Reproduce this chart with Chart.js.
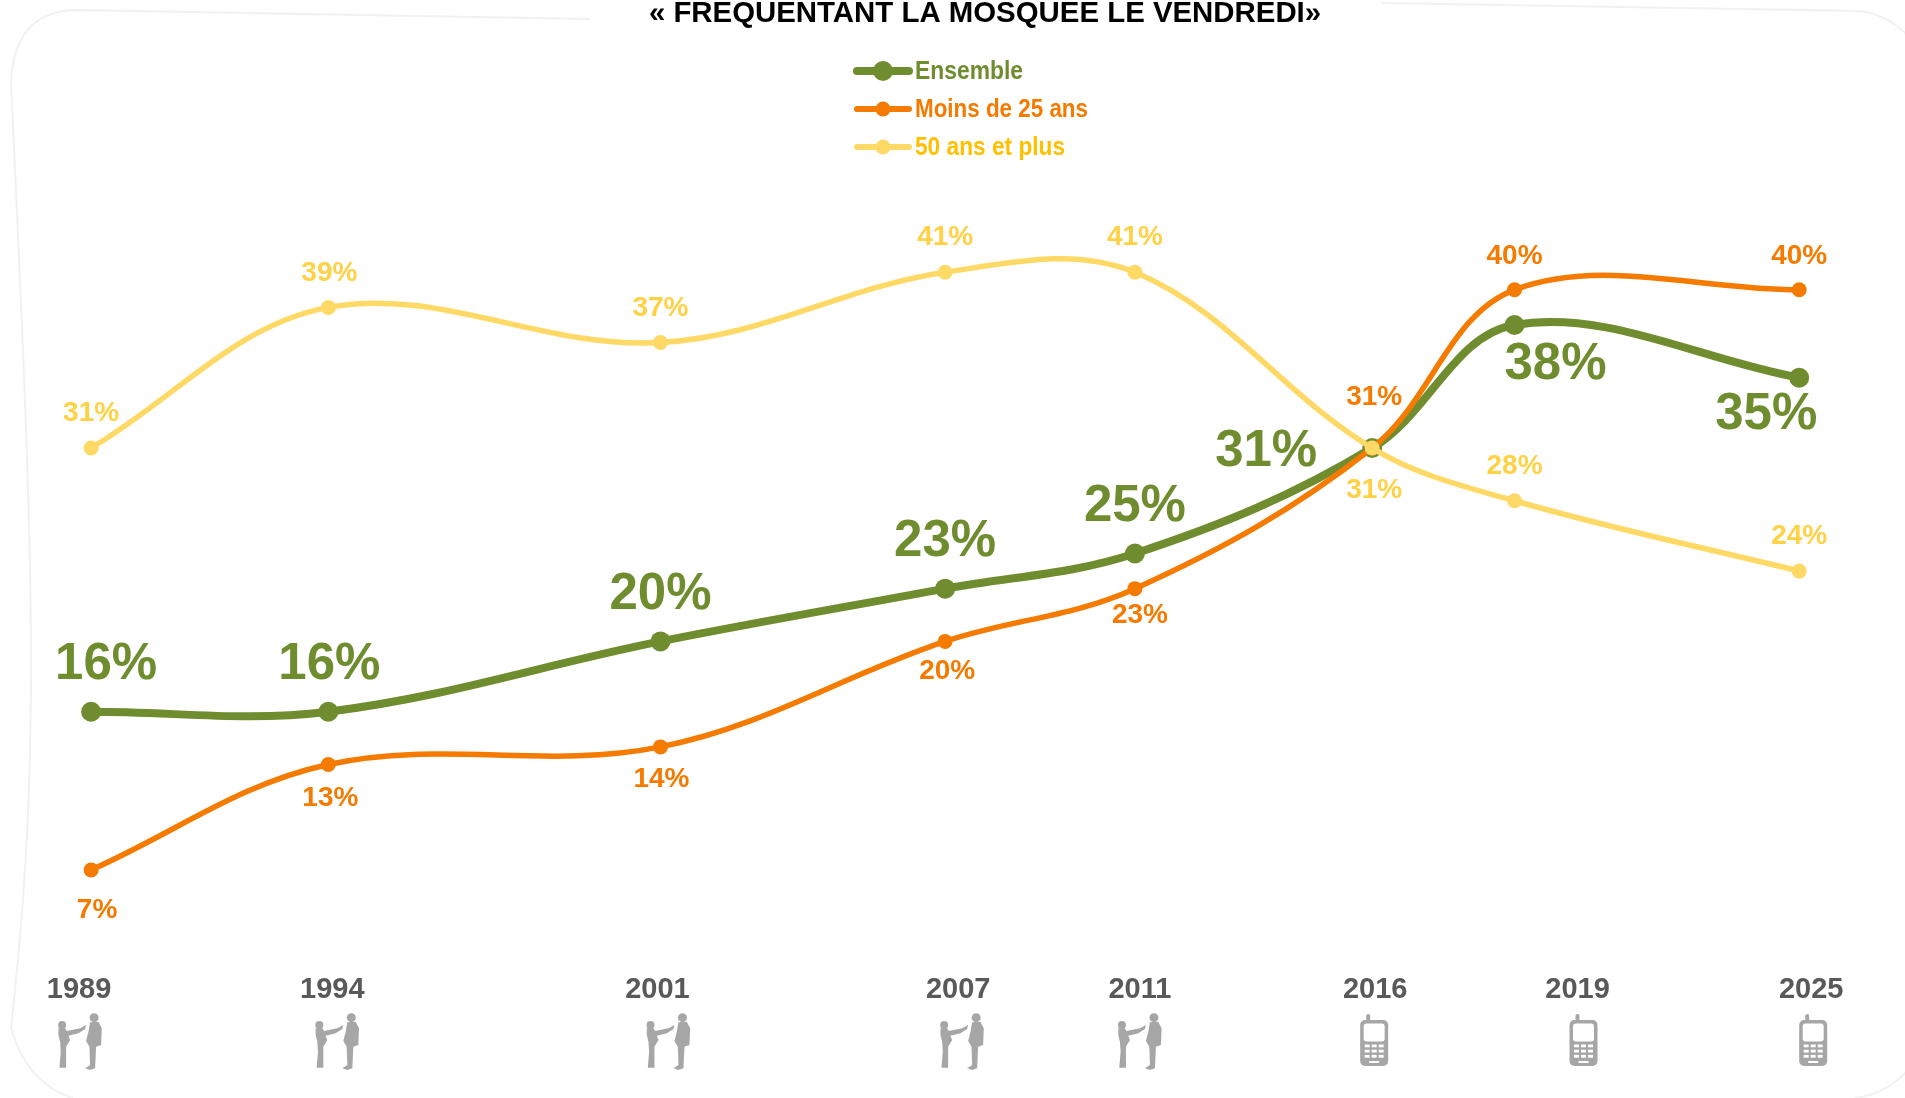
<!DOCTYPE html>
<html lang="fr">
<head>
<meta charset="utf-8">
<title>Fréquentant la mosquée le vendredi</title>
<script src="https://cdn.jsdelivr.net/npm/chart.js@4/dist/chart.umd.min.js"></script>
<style>html,body{margin:0;padding:0;background:#fff;overflow:hidden}canvas{display:block}</style>
</head>
<body>
<canvas id="c" width="1905" height="1098"></canvas>
<script>
const titleText = "« FREQUENTANT LA MOSQUEE LE VENDREDI»";
const years = [1989, 1994, 2001, 2007, 2011, 2016, 2019, 2025];
const ensemble = [16, 16, 20, 23, 25, 31, 38, 35];
const moins25 = [7, 13, 14, 20, 23, 31, 40, 40];
const plus50 = [31, 39, 37, 41, 41, 31, 28, 24];
const tickLabels = ["1989", "1994", "2001", "2007", "2011", "2016", "2019", "2025"];
const tickIcons = ["people", "people", "people", "people", "people", "phone", "phone", "phone"];

/* layout (pixels) */
const tickShift = [-12, 4, -3, 13, 5, 3, 63, 12];
const iconShift = [1, 5, 11, 4, 0, -1, 6, 2];
const offEnsemble = [[15,-46.5],[1,-46.5],[0,-46.5],[0,-46.5],[0,-47],[-106,3.5],[41,39.5],[-33,37.5]];
const offMoins = [[6,40.5],[2,33.5],[1,32.5],[2,30],[5,26.5],[2,-51],[0,-34],[0,-34]];
const offPlus = [[0,-34.5],[1,-34.5],[0,-34],[0,-34.5],[0,-34.5],[2,42],[0,-34],[0,-34.5]];

const GREEN = "#6f8d2f", ORANGE = "#f47b00", YELLOW = "#ffd966";
const X_MIN = 1987.08, X_MAX = 2027.23, PX_PER_YEAR = 1905 / (X_MAX - X_MIN);
const AXIS_H = 128, PX_PER_UNIT = 17.58;
const Y_MIN = (993 - (1098 - AXIS_H)) / PX_PER_UNIT, Y_MAX = 993 / PX_PER_UNIT;

function xy(a) { return a.map((v, i) => ({ x: years[i], y: v })); }
function ds(label, data, color, width, radius, order, labelColor, labelFont, offs) {
  return { label, data: xy(data), borderColor: color, backgroundColor: color, pointBackgroundColor: color,
    pointBorderColor: color, pointBorderWidth: 0, borderWidth: width, pointRadius: radius, pointHoverRadius: radius,
    tension: 0.36, order, labelColor, labelFont, offs, borderCapStyle: "round" };
}

function drawPeople(ctx, cx, top) {
  const P = (x, y) => [cx + x / 3 - 40, top + y / 3 - 10];
  const poly = pts => { ctx.beginPath(); pts.forEach((p, i) => { const q = P(p[0], p[1]); i ? ctx.lineTo(q[0], q[1]) : ctx.moveTo(q[0], q[1]); }); ctx.closePath(); ctx.fill(); };
  const head = (x, y, r) => { const q = P(x, y); ctx.beginPath(); ctx.arc(q[0], q[1], r, 0, 7); ctx.fill(); };
  ctx.save();
  ctx.fillStyle = "#a6a6a6";
  ctx.filter = "blur(0.7px)";
  head(66, 60, 4); head(162, 38, 4.5);
  poly([[55,70],[75,70],[80,78],[120,70],[138,60],[135,72],[115,85],[85,92],[90,105],[78,125],[78,150],[78,188],[58,188],[62,140],[60,110],[55,90]]);
  poly([[150,52],[175,50],[185,70],[183,120],[168,125],[165,190],[150,195],[135,190],[150,180],[148,125],[138,108],[145,80]]);
  ctx.restore();
}
function drawPhone(ctx, cx, top) {
  const L = cx - 14;
  ctx.save();
  ctx.fillStyle = "#a6a6a6";
  ctx.beginPath(); ctx.roundRect(L + 6, top, 4, 8, 2); ctx.fill();
  ctx.beginPath(); ctx.roundRect(L, top + 6, 28, 46, 5); ctx.fill();
  ctx.fillStyle = "#fff";
  ctx.beginPath(); ctx.roundRect(L + 3.5, top + 9.5, 21, 18, 3); ctx.fill();
  for (let r = 0; r < 3; r++) for (let c = 0; c < 3; c++) ctx.fillRect(L + 4.5 + c * 7, top + 30.5 + r * 5.2, 5, 2.8);
  ctx.fillRect(L + 9, top + 47, 10, 2);
  ctx.restore();
}

const decor = {
  id: "decor",
  beforeDraw(chart) {
    const ctx = chart.ctx;
    ctx.save();
    ctx.strokeStyle = "#f1f1f1"; ctx.lineWidth = 2; ctx.lineCap = "round";
    ctx.beginPath();
    ctx.moveTo(590, 19); ctx.lineTo(75, 10);
    ctx.quadraticCurveTo(14, 12, 11, 82);
    ctx.bezierCurveTo(20, 280, 31, 500, 31, 660);
    ctx.bezierCurveTo(31, 800, 25, 900, 11, 1028);
    ctx.quadraticCurveTo(26, 1082, 72, 1098);
    ctx.moveTo(1383, 3); ctx.lineTo(1860, 11);
    ctx.quadraticCurveTo(1885, 14, 1905, 33);
    ctx.moveTo(1905, 1073); ctx.quadraticCurveTo(1885, 1094, 1855, 1098);
    ctx.stroke();
    ctx.restore();
  },
  afterDraw(chart) {
    const ctx = chart.ctx;
    // title
    ctx.save();
    ctx.fillStyle = "#000"; ctx.font = "bold 29.4px 'Liberation Sans'"; ctx.textAlign = "center"; ctx.textBaseline = "alphabetic";
    ctx.fillText(titleText, 985, 22, 673);
    ctx.restore();
    // legend
    const ly = [71, 109, 147], lw = [108, 173, 150], lc = [GREEN, ORANGE, "#ffc000"], lr = [10, 7.5, 7.5], lt = [8, 6, 6];
    chart.data.datasets.forEach((d, i) => {
      ctx.save();
      ctx.strokeStyle = d.borderColor; ctx.fillStyle = d.borderColor; ctx.lineWidth = lt[i]; ctx.lineCap = "round";
      ctx.beginPath(); ctx.moveTo(857, ly[i]); ctx.lineTo(909, ly[i]); ctx.stroke();
      ctx.beginPath(); ctx.arc(883, ly[i], lr[i], 0, 7); ctx.fill();
      ctx.fillStyle = lc[i]; ctx.font = "bold 25px 'Liberation Sans'"; ctx.textAlign = "left"; ctx.textBaseline = "middle";
      ctx.fillText(d.label, 915, ly[i] + 1, lw[i]);
      ctx.restore();
    });
    // value labels
    chart.data.datasets.forEach((d, i) => {
      const meta = chart.getDatasetMeta(i);
      meta.data.forEach((pt, j) => {
        ctx.save();
        ctx.fillStyle = d.labelColor; ctx.font = d.labelFont; ctx.textAlign = "center"; ctx.textBaseline = "middle";
        ctx.fillText(d.data[j].y + "%", pt.x + d.offs[j][0], pt.y + d.offs[j][1]);
        ctx.restore();
      });
    });
    // icons under the ticks
    const sx = chart.scales.x;
    tickIcons.forEach((kind, i) => {
      const cx = sx.getPixelForValue(years[i] + tickShift[i] / PX_PER_YEAR) + iconShift[i];
      if (kind === "people") drawPeople(ctx, cx, 1015); else drawPhone(ctx, cx, 1014);
    });
  }
};

new Chart(document.getElementById("c"), {
  type: "line",
  data: { datasets: [
    ds("Ensemble", ensemble, GREEN, 8, 10, 3, GREEN, "bold 51px 'Liberation Sans'", offEnsemble),
    ds("Moins de 25 ans", moins25, ORANGE, 5.5, 7.5, 2, ORANGE, "bold 28px 'Liberation Sans'", offMoins),
    ds("50 ans et plus", plus50, YELLOW, 5.5, 7.5, 1, "#ffd145", "bold 28px 'Liberation Sans'", offPlus)
  ] },
  options: {
    responsive: false, animation: false, parsing: true,
    layout: { padding: 0, autoPadding: false },
    events: [],
    plugins: { legend: { display: false }, title: { display: false }, tooltip: { enabled: false } },
    scales: {
      x: {
        type: "linear", min: X_MIN, max: X_MAX,
        grid: { display: false, drawTicks: false }, border: { display: false },
        afterBuildTicks(s) { s.ticks = years.map((y, i) => ({ value: y + tickShift[i] / PX_PER_YEAR })); },
        afterFit(s) { s.height = AXIS_H; },
        ticks: {
          autoSkip: false, maxRotation: 0, minRotation: 0, padding: 3,
          color: "#595959", font: { family: "'Liberation Sans'", size: 29, weight: "bold" },
          callback: (v, i) => tickLabels[i]
        }
      },
      y: { type: "linear", display: false, min: Y_MIN, max: Y_MAX }
    }
  },
  plugins: [decor]
});
</script>
</body>
</html>
